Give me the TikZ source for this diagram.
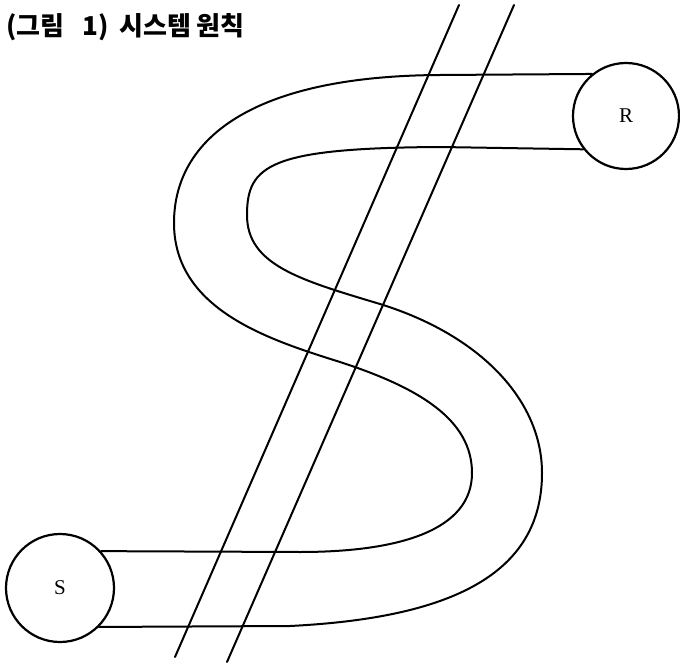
\documentclass[tikz,border=0pt]{standalone}
\usepackage{fontspec}
\newfontfamily\kr{Noto Sans CJK KR}
\newfontfamily\lserif{Liberation Serif}
\begin{document}
\begin{tikzpicture}[x=1pt,y=-1pt,
  band/.style={line width=2pt, line cap=round, line join=round},
  cut/.style={line width=2pt, line cap=round},
  endpoint/.style={circle, draw, line width=2.2pt, minimum size=106pt, inner sep=0pt, font=\lserif\fontsize{21}{24}\selectfont},
  title/.style={anchor=west, inner sep=0pt, font=\kr\bfseries\fontsize{26}{30}\selectfont}]
\useasboundingbox (0,0) rectangle (680,666);
\node[title] (t) at (6,27) {(그림\hspace{0.7em}1)\hspace{0.4em}시스템 원칙};
\node[endpoint] (R) at (626,116) {R};
\node[endpoint, minimum size=108pt] (S) at (60,588) {S};
% outer band line (top of R to top of S)
\draw[band] (R.129) -- (440,75)
  .. controls (250,76) and (174,140) .. (174,223)
  .. controls (174,310) and (270,340) .. (340,362)
  .. controls (420,388) and (472,420) .. (472,473)
  .. controls (472,530) and (400,552) .. (300,552)
  -- (S.42);
% inner band line (bottom of R to bottom of S)
\draw[band] (R.218) -- (440,147)
  .. controls (270,148) and (247,165) .. (247,215)
  .. controls (247,265) and (300,280) .. (380,304)
  .. controls (480,335) and (542,400) .. (542,473)
  .. controls (542,575) and (450,618) .. (290,626)
  -- (S.315);
% the two parallel cut lines
\coordinate (a1) at (459,5);
\coordinate (a2) at (175,657);
\coordinate (b1) at (514,5);
\coordinate (b2) at (227,662);
\draw[cut] (a1) -- (a2);
\draw[cut] (b1) -- (b2);
\end{tikzpicture}
\end{document}
